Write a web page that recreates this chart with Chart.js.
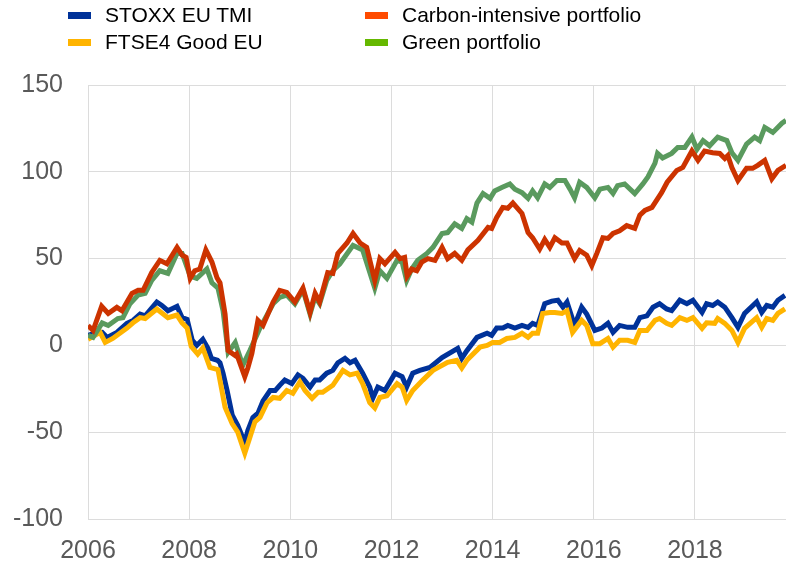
<!DOCTYPE html>
<html>
<head>
<meta charset="utf-8">
<script src="https://cdn.jsdelivr.net/npm/chart.js@4/dist/chart.umd.min.js"></script>
<style>
  body { margin: 0; background: #fff; }
  #wrap { position: relative; width: 786px; height: 564px; font-family: Arial, "Liberation Sans", sans-serif; }
  .item { position: absolute; font-size: 21px; color: #000; line-height: 24px; white-space: nowrap; }
  .sw { position: absolute; width: 23px; height: 7px; }
</style>
</head>
<body>
<div id="wrap">
  <canvas id="chart" width="786" height="564"></canvas>
  <div id="legend"></div>
</div>
<script>
// series (decimal year, index value)
var stoxxYears = [2006.00,2006.14,2006.28,2006.38,2006.57,2006.77,2006.89,2007.03,2007.13,2007.36,2007.46,2007.58,2007.76,2007.86,2007.96,2008.06,2008.15,2008.27,2008.37,2008.44,2008.56,2008.61,2008.67,2008.75,2008.85,2008.96,2009.10,2009.16,2009.26,2009.36,2009.46,2009.60,2009.70,2009.79,2009.89,2010.03,2010.15,2010.25,2010.39,2010.49,2010.58,2010.72,2010.84,2010.94,2011.08,2011.18,2011.28,2011.43,2011.57,2011.63,2011.73,2011.87,2012.07,2012.21,2012.30,2012.42,2012.56,2012.76,2013.00,2013.31,2013.39,2013.49,2013.69,2013.89,2013.98,2014.08,2014.20,2014.30,2014.44,2014.58,2014.70,2014.79,2014.89,2015.03,2015.17,2015.29,2015.39,2015.47,2015.62,2015.76,2015.86,2016.02,2016.16,2016.28,2016.38,2016.51,2016.67,2016.81,2016.91,2017.05,2017.17,2017.30,2017.44,2017.54,2017.70,2017.84,2017.96,2018.14,2018.23,2018.35,2018.45,2018.59,2018.73,2018.85,2018.98,2019.22,2019.32,2019.42,2019.54,2019.64,2019.78];
var stoxxValues = [5.8,7,7.5,4.6,7.5,12.7,14.4,18,17,25,23,20,22.5,16,15,3,0,3.5,-1.7,-7.5,-8.6,-10,-16,-26,-40,-46,-56,-49,-41.5,-39,-32,-26,-26,-23,-20,-22,-17,-19,-24,-20,-20,-16,-14.4,-10,-7.5,-10,-8.6,-16,-24,-30.5,-24,-26,-16,-18,-24,-16,-14.4,-12.7,-7,-1.7,-7.5,-3,4.6,7,5.8,10,10,11.5,10,11.5,10.4,12.7,11.5,24,25.5,26,22,25,11.5,22,18,8.6,10,12.7,7.5,11.5,10.4,10.4,16,17,22,24,21,20,26,24,26,19,24,23,25,22,16,10.4,18.4,25,19,23,22,26,28.8];

var ftseYears = [2006.00,2006.24,2006.34,2006.49,2006.77,2006.89,2007.03,2007.13,2007.36,2007.58,2007.76,2007.86,2007.96,2008.04,2008.17,2008.27,2008.41,2008.57,2008.71,2008.85,2008.96,2009.10,2009.20,2009.30,2009.40,2009.54,2009.66,2009.79,2009.93,2010.05,2010.19,2010.29,2010.43,2010.55,2010.64,2010.84,2011.04,2011.18,2011.32,2011.43,2011.57,2011.67,2011.77,2011.91,2012.11,2012.21,2012.30,2012.42,2012.62,2012.82,2013.11,2013.29,2013.39,2013.49,2013.75,2013.89,2014.00,2014.14,2014.28,2014.44,2014.58,2014.70,2014.79,2014.89,2014.99,2015.13,2015.23,2015.37,2015.47,2015.58,2015.76,2015.86,2015.98,2016.12,2016.28,2016.38,2016.51,2016.67,2016.81,2016.91,2017.05,2017.21,2017.30,2017.44,2017.54,2017.70,2017.84,2017.96,2018.14,2018.23,2018.39,2018.45,2018.59,2018.73,2018.85,2018.98,2019.22,2019.32,2019.42,2019.54,2019.64,2019.78];
var ftseValues = [3.5,7.5,1.7,4,10,13,16,15.5,21,16,17.5,13,10,-0.5,-5,-1.5,-12.7,-14,-35.6,-45,-50,-62,-53,-44,-41.5,-33,-30,-30.5,-26,-27.6,-21,-26,-30.5,-27,-27,-23,-14.4,-17,-16,-22,-33,-36,-30,-29,-22,-24,-31.7,-26,-20,-14.4,-9.8,-8.6,-13,-8.6,-1,0,1.7,1.7,4,4.6,7,4.6,7,7,18.4,19,19,18.4,20,7.5,14.4,11.5,1,1,4,-1,2.9,2.9,1.7,8.6,8.6,14.4,15.5,12.7,11.5,16,14.4,16,9.8,13,12.7,15.5,12.7,8.6,1.7,9.8,16,10.4,15.5,14.4,18.4,21];

var carbonYears = [2006.00,2006.10,2006.27,2006.40,2006.57,2006.67,2006.87,2006.99,2007.09,2007.26,2007.42,2007.56,2007.76,2007.86,2007.94,2008.02,2008.11,2008.21,2008.33,2008.45,2008.55,2008.61,2008.71,2008.77,2008.91,2008.94,2009.10,2009.16,2009.24,2009.36,2009.46,2009.66,2009.79,2009.93,2010.09,2010.25,2010.39,2010.49,2010.58,2010.74,2010.84,2010.94,2011.12,2011.24,2011.38,2011.51,2011.67,2011.77,2011.87,2012.07,2012.17,2012.26,2012.31,2012.40,2012.50,2012.60,2012.72,2012.86,2013.00,2013.11,2013.25,2013.39,2013.51,2013.71,2013.91,2013.98,2014.08,2014.20,2014.30,2014.40,2014.58,2014.70,2014.79,2014.93,2015.03,2015.13,2015.23,2015.37,2015.47,2015.62,2015.72,2015.86,2015.96,2016.06,2016.18,2016.28,2016.38,2016.51,2016.65,2016.81,2016.91,2017.01,2017.15,2017.25,2017.34,2017.45,2017.64,2017.76,2017.94,2018.06,2018.19,2018.35,2018.49,2018.59,2018.65,2018.73,2018.85,2019.02,2019.14,2019.24,2019.38,2019.52,2019.64,2019.80];
var carbonValues = [11.5,8.6,22.5,18.4,21.9,20,30,31.7,31.7,42,49,47,56.5,52,50.7,38.6,43,44,55,48,39,36,18,-3,-5.8,-5,-18,-13,-4.6,14.4,11.5,25,31.7,30.5,25,33,19,30,25,42,41.5,53,59,64.5,59,56.5,37.4,50,47,53.6,50,50.7,40,44,43,48,50,49,56.5,50,53,49,55,60.5,68,67.4,73.7,79.5,79,82,76,65,62,55.5,61,56.5,62,59,59,50,54.7,52,46,53,62,61.6,64.5,66,69,67.4,75,77.8,79.5,84,88,94,100.8,102.5,112,106.6,112,111,110.6,107.7,109.4,102.5,95,102,102,103.7,106.6,96,100.8,103.7];

var greenYears = [2006.00,2006.10,2006.28,2006.40,2006.59,2006.69,2006.83,2006.99,2007.13,2007.26,2007.42,2007.58,2007.76,2007.86,2008.02,2008.15,2008.35,2008.45,2008.57,2008.67,2008.77,2008.91,2009.06,2009.20,2009.40,2009.66,2009.79,2009.93,2010.09,2010.25,2010.39,2010.49,2010.58,2010.72,2010.84,2010.98,2011.24,2011.43,2011.67,2011.77,2011.91,2012.11,2012.21,2012.30,2012.40,2012.52,2012.70,2012.82,2013.00,2013.11,2013.25,2013.39,2013.49,2013.59,2013.69,2013.81,2013.95,2014.04,2014.18,2014.34,2014.44,2014.58,2014.70,2014.79,2014.89,2015.03,2015.13,2015.27,2015.43,2015.53,2015.62,2015.72,2015.86,2016.02,2016.12,2016.28,2016.38,2016.47,2016.61,2016.81,2016.97,2017.07,2017.21,2017.26,2017.36,2017.54,2017.66,2017.80,2017.94,2018.04,2018.16,2018.29,2018.45,2018.63,2018.73,2018.85,2019.02,2019.18,2019.28,2019.38,2019.54,2019.72,2019.80];
var greenValues = [5.8,4.6,13,11.5,15.5,16,24,29,30,37.4,43,41.5,53,53,40,38.6,44,36,33,20,-4,1.7,-11.5,-3,10,24,27.6,29,24,32,18,28,24,37.4,43,47,57.6,55,33,43,38.6,49,48,37.4,44,49,53,56.5,64.5,65,70,67.4,73,71,82,87.5,84.7,89,91,93,90,88,84.7,89,85,93,91,95,95,90,85,94,91,85,90,91,87.5,92,93,87.5,93,97,105,110.6,108,110.6,114,114,120,113,118,115,120,118,111,106.6,116,120,118,125.6,122.7,128,129.6];

var seriesNames = ['STOXX EU TMI', 'FTSE4 Good EU', 'Carbon-intensive portfolio', 'Green portfolio'];
var lineColors = ['#003299', '#ffb400', '#cc3300', '#5a9a5e'];
var legendColors = ['#003299', '#ffb400', '#ff4b00', '#65b800'];
var xTicks = [2006, 2008, 2010, 2012, 2014, 2016, 2018];

function pts(xs, ys) {
    return xs.map((x, i) => ({ x: x, y: ys[i] }));
}

var allData = [pts(stoxxYears, stoxxValues), pts(ftseYears, ftseValues),
               pts(carbonYears, carbonValues), pts(greenYears, greenValues)];
var drawOrder = [3, 2, 0, 1]; // red on top of green, yellow on top of blue

var ctx = document.getElementById('chart').getContext('2d');
var myChart = new Chart(ctx, {
    type: 'line',
    data: {
        datasets: allData.map((d, i) => ({
            label: seriesNames[i],
            data: d,
            borderColor: lineColors[i],
            backgroundColor: lineColors[i],
            borderWidth: 5,
            pointRadius: 0,
            tension: 0,
            order: drawOrder[i]
        }))
    },
    options: {
        responsive: false,
        animation: false,
        layout: { padding: { top: 85, right: 0, bottom: 0, left: 0 } },
        plugins: { legend: { display: false }, tooltip: { enabled: false } },
        scales: {
            x: {
                type: 'linear',
                min: 2006,
                max: 2019.8,
                afterBuildTicks: function (scale) {
                    scale.ticks = xTicks.map(v => ({ value: v }));
                },
                afterFit: function (scale) { scale.height = 45; },
                grid: { color: '#dcdcdc', lineWidth: 1, drawTicks: false },
                border: { display: false },
                ticks: {
                    padding: 17,
                    color: '#595959',
                    font: { family: 'Arial, "Liberation Sans"', size: 25 },
                    callback: v => String(v),
                    maxRotation: 0
                }
            },
            y: {
                min: -100,
                max: 150,
                afterFit: function (scale) { scale.width = 88; },
                grid: { color: '#dcdcdc', lineWidth: 1, drawTicks: false },
                border: { display: false },
                ticks: {
                    stepSize: 50,
                    padding: 25,
                    color: '#595959',
                    font: { family: 'Arial, "Liberation Sans"', size: 25 }
                }
            }
        }
    }
});

// two-column legend above the plot
var legendPos = [[68, 3], [68, 30], [365, 3], [365, 30]];
var leg = document.getElementById('legend');
seriesNames.forEach((name, i) => {
    var sw = document.createElement('div');
    sw.className = 'sw';
    sw.style.left = legendPos[i][0] + 'px';
    sw.style.top = (legendPos[i][1] + 9) + 'px';
    sw.style.background = legendColors[i];
    leg.appendChild(sw);
    var t = document.createElement('div');
    t.className = 'item';
    t.style.left = (legendPos[i][0] + 37) + 'px';
    t.style.top = legendPos[i][1] + 'px';
    t.textContent = name;
    leg.appendChild(t);
});
</script>
</body>
</html>
